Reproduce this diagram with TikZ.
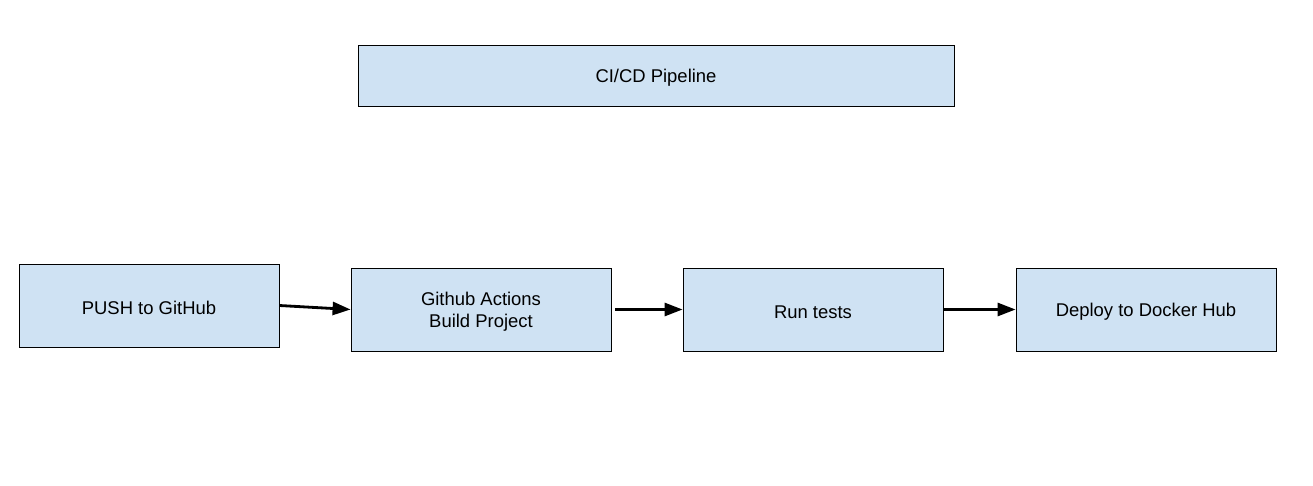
\documentclass[tikz,border=0pt]{standalone}
\usepackage{fontspec}
\setmainfont{Liberation Sans}
\usetikzlibrary{arrows.meta, positioning}
\definecolor{PaleBlue}{HTML}{CFE2F3}

\tikzset{
    stagebox/.style={rectangle, draw=black, line width=0.5pt, fill=PaleBlue,
        minimum width=5.2cm, minimum height=1.66cm, align=center,
        text height=1em, font=\fontsize{10.5}{12.6}\selectfont},
    flow/.style={-{Triangle[length=0.36cm, width=0.26cm]}, line width=1.6pt}
}

\begin{document}
\begin{tikzpicture}[x=0.02cm, y=-0.02cm]
    \useasboundingbox (0,0) rectangle (1313,486);

    % Title box
    \node[stagebox, minimum width=11.92cm, minimum height=1.22cm]
        (title) at (656, 75.5) {CI/CD Pipeline};

    % Pipeline stages
    \foreach \name/\x/\y/\th/\label in {push/149/305.5/1em/PUSH to GitHub,
            build/481/309.5/2.25em/{Github Actions\\Build Project},
            tests/813/309.5/1em/Run tests,
            deploy/1146/309.5/1em/Deploy to Docker Hub} {
        \node[stagebox, text height=\th] (\name) at (\x, \y) {\label};
    }

    % Arrows between stages
    \draw[flow] (push.east) -- (build.west);
    \draw[flow, shorten <=0.08cm] (build.east) -- (tests.west);
    \draw[flow] (tests.east) -- (deploy.west);
\end{tikzpicture}
\end{document}
